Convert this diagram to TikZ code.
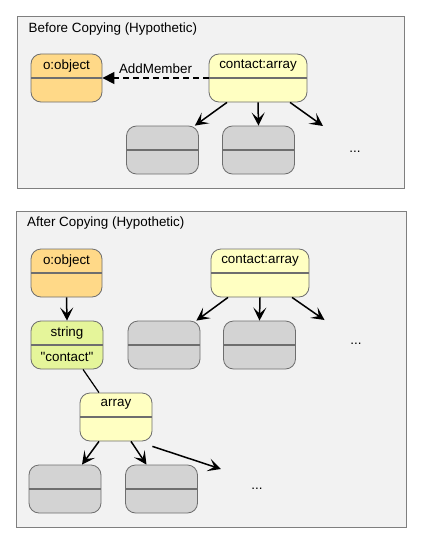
\documentclass[tikz,border=0pt]{standalone}
\usepackage{fontspec}
\setmainfont{Liberation Sans}
\usetikzlibrary{arrows.meta}
\definecolor{panelfill}{HTML}{F2F2F2}
\definecolor{panelline}{HTML}{7F7F7F}
\definecolor{cellline}{HTML}{6E6E6E}
\definecolor{orangefill}{HTML}{FFD988}
\definecolor{yellowfill}{HTML}{FFFFC2}
\definecolor{greenfill}{HTML}{E5F59A}
\definecolor{grayfill}{HTML}{D3D3D3}
\tikzset{
  panel/.style={draw=panelline, fill=panelfill, line width=0.9pt},
  cell/.style={draw=cellline, line width=0.8pt, rounded corners=10pt,
    minimum height=48pt, inner sep=0pt,
    path picture={\draw[cellline, line width=1.2pt]
      (path picture bounding box.west) -- (path picture bounding box.east);}},
  orangecell/.style={cell, fill=orangefill, minimum width=71pt},
  yellowcell/.style={cell, fill=yellowfill},
  greencell/.style={cell, fill=greenfill, minimum width=72pt},
  graycell/.style={cell, fill=grayfill, minimum width=72pt},
  txt/.style={font=\fontsize{13.4pt}{15pt}\selectfont, inner sep=0pt, text=black},
  conn/.style={line width=1.5pt, -{Stealth[length=13pt, width=13pt, inset=6pt]}},
}
\begin{document}
\begin{tikzpicture}[x=1pt, y=-1pt]
\useasboundingbox (0,0) rectangle (421,543);
% ---------- top panel ----------
\node[panel, minimum width=387pt, minimum height=172pt, inner sep=0pt, anchor=north west] (p1) at (17,16) {};
\node[txt, anchor=west] (t1) at (28.5,29) {Before Copying (Hypothetic)};
\node[orangecell] (obj1) at (66.5,78) {};
\node[txt] (obj1t) at ([yshift=-12pt]obj1.north) {o:object};
\node[yellowcell, minimum width=98pt] (c1) at (258,78) {};
\node[txt] (c1t) at ([yshift=-12pt]c1.north) {contact:array};
\node[graycell] (g1) at (162.5,150) {};
\node[graycell] (g2) at (258.5,150) {};
\node[txt] (d1) at (355,152) {...};
\coordinate (e1) at (323,126);
\draw[line width=1.2pt, dash pattern=on 6pt off 4pt, -{Triangle[length=12pt, width=12pt]}] (c1.west) -- (obj1.east)
  node[midway, above=4pt, txt] (am) {AddMember};
\draw[conn] ([xshift=-31pt]c1.south) -- ([xshift=-4pt]g1.north east);
\draw[conn] (c1.south) -- (g2.north);
\draw[conn] ([xshift=32pt]c1.south) -- (e1);
% ---------- bottom panel ----------
\node[panel, minimum width=389.5pt, minimum height=316pt, inner sep=0pt, anchor=north west] (p2) at (16,211) {};
\node[txt, anchor=west] (t2) at (27,223) {After Copying (Hypothetic)};
\node[orangecell] (obj2) at (66.5,273) {};
\node[txt] (obj2t) at ([yshift=-12pt]obj2.north) {o:object};
\node[yellowcell, minimum width=98pt] (c2) at (260,273) {};
\node[txt] (c2t) at ([yshift=-12pt]c2.north) {contact:array};
\node[greencell] (str) at (67,345) {};
\node[txt] (strt) at ([yshift=-12pt]str.north) {string};
\node[txt] (strv) at ([yshift=12pt]str.south) {\textquotedbl contact\textquotedbl};
\node[graycell] (g3) at (164,345) {};
\node[graycell] (g4) at (259.5,345) {};
\node[txt] (d2) at (356,344) {...};
\node[yellowcell, minimum width=72pt] (arr) at (116,417) {};
\node[txt] (arrt) at ([yshift=-12pt]arr.north) {array};
\node[graycell] (g5) at (65,489) {};
\node[graycell] (g6) at (161.5,489) {};
\node[txt] (d3) at (257,489) {...};
\coordinate (e2) at (324.5,320);
\coordinate (e3) at (221,469);
\draw[conn] (obj2.south) -- (str.north);
\draw[conn] ([xshift=-32pt]c2.south) -- ([xshift=-4pt]g3.north east);
\draw[conn] (c2.south) -- (g4.north);
\draw[conn] ([xshift=32pt]c2.south) -- (e2);
\draw[line width=1.2pt] ([xshift=16pt]str.south) -- ([xshift=-17pt]arr.north);
\draw[conn] ([xshift=-17pt]arr.south) -- ([xshift=17pt]g5.north);
\draw[conn] ([xshift=15pt]arr.south) -- ([xshift=-15pt]g6.north);
\draw[conn] ([yshift=-5pt]arr.south east) -- (e3);
\end{tikzpicture}
\end{document}
